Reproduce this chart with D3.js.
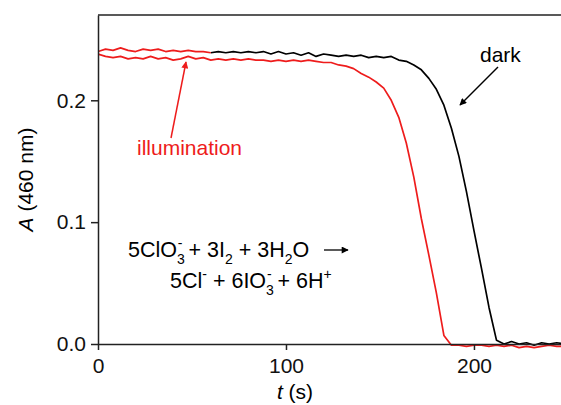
<!DOCTYPE html>
<html lang="en">
<head>
    <meta charset="UTF-8">
    <title>Absorbance at 460 nm, dark vs illumination</title>
    <script src="https://d3js.org/d3.v7.min.js"></script>
    <style>
        body { margin: 0; background: #fff; }
        svg { display: block; font-family: "Liberation Sans", Arial, sans-serif; }
        .axis path, .axis line { stroke: #222; stroke-width: 1.5; }
        .axis text { font-size: 21px; fill: #111; }
        .curve { fill: none; stroke-width: 1.7; stroke-linejoin: round; }
    </style>
</head>
<body>
<div id="chart"></div>
<script>
    // time (s) shared by both runs
    var times = [0, 4, 8, 12, 16, 20, 24, 28, 32, 36, 40, 44, 48, 52, 56, 60, 64, 68, 72, 76,
        80, 84, 88, 92, 96, 100, 104, 108, 112, 116, 120, 124, 128, 132, 136, 140, 144, 148, 152, 156,
        160, 164, 168, 172, 176, 180, 184, 188, 192, 196, 200, 204, 208, 212, 216, 220, 224, 228, 232, 236,
        240, 244, 248];

    // absorbance, run kept in the dark (first minute drawn red, as in the original)
    var darkA = [0.240, 0.242, 0.241, 0.243, 0.241, 0.240, 0.242, 0.241, 0.242, 0.240, 0.241, 0.240, 0.241, 0.240, 0.240, 0.239, 0.240, 0.239, 0.240, 0.239,
        0.240, 0.239, 0.240, 0.238, 0.240, 0.238, 0.239, 0.237, 0.239, 0.236, 0.238, 0.237, 0.236, 0.237, 0.236, 0.237, 0.235, 0.236, 0.235, 0.236,
        0.233, 0.232, 0.229, 0.225, 0.218, 0.209, 0.196, 0.177, 0.154, 0.125, 0.093, 0.062, 0.030, 0.003, 0.000, 0.002, 0.000, 0.001, -0.001, 0.001,
        0.000, 0.001, 0.000];
    var darkRedUntil = 60;

    // absorbance, run under illumination
    var lightA = [0.238, 0.236, 0.235, 0.236, 0.234, 0.235, 0.234, 0.236, 0.234, 0.235, 0.233, 0.234, 0.236, 0.234, 0.235, 0.233, 0.234, 0.233, 0.234, 0.233,
        0.234, 0.233, 0.233, 0.232, 0.233, 0.232, 0.233, 0.232, 0.233, 0.232, 0.231, 0.231, 0.229, 0.228, 0.226, 0.222, 0.219, 0.215, 0.210, 0.200,
        0.186, 0.165, 0.137, 0.103, 0.073, 0.042, 0.007, -0.001, -0.001, -0.002, -0.001, -0.001, -0.002, -0.001, -0.002, -0.001, -0.003, -0.002, -0.003, -0.002,
        -0.001, -0.002, -0.002];

    var xTicks = [0, 100, 200];
    var yTicks = [0.0, 0.1, 0.2];

    var W = 561, H = 405;
    var margin = {top: 15, left: 98, bottom: 61};

    var svg = d3.select("#chart").append("svg")
        .attr("width", W)
        .attr("height", H);

    var x = d3.scaleLinear().domain([0, 246.3]).range([margin.left, W]);
    var y = d3.scaleLinear().domain([0, 0.27]).range([H - margin.bottom, margin.top]);

    svg.append("clipPath").attr("id", "plotclip")
        .append("rect")
        .attr("x", margin.left).attr("y", margin.top)
        .attr("width", W - margin.left).attr("height", H - margin.bottom - margin.top + 6);

    var darkData = times.map(function(t, i) { return {t: t, a: darkA[i]}; });
    var lightData = times.map(function(t, i) { return {t: t, a: lightA[i]}; });

    var line = d3.line()
        .x(function(d) { return x(d.t); })
        .y(function(d) { return y(d.a); });

    var plot = svg.append("g").attr("clip-path", "url(#plotclip)");

    plot.append("path")
        .attr("class", "curve")
        .attr("stroke", "#000")
        .attr("d", line(darkData.filter(function(d) { return d.t >= darkRedUntil; })));

    plot.append("path")
        .attr("class", "curve")
        .attr("stroke", "#ee1c1c")
        .attr("d", line(darkData.filter(function(d) { return d.t <= darkRedUntil; })));

    plot.append("path")
        .attr("class", "curve")
        .attr("stroke", "#ee1c1c")
        .attr("d", line(lightData));

    // axes
    svg.append("g")
        .attr("class", "axis")
        .attr("transform", "translate(0," + y(0) + ")")
        .call(d3.axisBottom(x).tickValues(xTicks).tickSize(6).tickSizeOuter(0).tickPadding(8)
            .tickFormat(d3.format("d")));

    svg.append("g")
        .attr("class", "axis")
        .attr("transform", "translate(" + x(0) + ",0)")
        .call(d3.axisLeft(y).tickValues(yTicks).tickSize(7).tickSizeOuter(0).tickPadding(5)
            .tickFormat(d3.format(".1f")));

    // top frame
    svg.append("line")
        .attr("x1", x(0)).attr("x2", W)
        .attr("y1", y(0.27)).attr("y2", y(0.27))
        .attr("stroke", "#222").attr("stroke-width", 1.5);

    // axis titles
    var yt = svg.append("text")
        .attr("transform", "translate(33," + (y(0.27) + y(0)) / 2 + ") rotate(-90)")
        .attr("text-anchor", "middle")
        .style("font-size", "21px");
    yt.append("tspan").style("font-style", "italic").text("A");
    yt.append("tspan").text(" (460 nm)");

    var xt = svg.append("text")
        .attr("x", 295).attr("y", 399)
        .attr("text-anchor", "middle")
        .style("font-size", "21px");
    xt.append("tspan").style("font-style", "italic").text("t");
    xt.append("tspan").text(" (s)");

    // arrowheads
    var defs = svg.append("defs");
    [["ahBlack", "#000"], ["ahRed", "#ee1c1c"]].forEach(function(m) {
        defs.append("marker")
            .attr("id", m[0])
            .attr("viewBox", "0 0 10 10")
            .attr("refX", 9).attr("refY", 5)
            .attr("markerWidth", 10).attr("markerHeight", 7)
            .attr("markerUnits", "userSpaceOnUse")
            .attr("orient", "auto")
            .append("path").attr("d", "M0,0L10,5L0,10Z").attr("fill", m[1]);
    });

    // annotations
    svg.append("text").attr("x", 480).attr("y", 62)
        .style("font-size", "21px").text("dark");
    svg.append("line")
        .attr("x1", 498).attr("y1", 67).attr("x2", 460).attr("y2", 105)
        .attr("stroke", "#000").attr("stroke-width", 1.5)
        .attr("marker-end", "url(#ahBlack)");

    svg.append("text").attr("x", 137).attr("y", 155)
        .attr("fill", "#ee1c1c")
        .style("font-size", "21px").text("illumination");
    svg.append("line")
        .attr("x1", 171).attr("y1", 138).attr("x2", 186).attr("y2", 62)
        .attr("stroke", "#ee1c1c").attr("stroke-width", 1.5)
        .attr("marker-end", "url(#ahRed)");

    // reaction equation
    function chem(xPos, yPos, parts) {
        var t = svg.append("text").attr("x", xPos).attr("y", yPos).style("font-size", "21.5px");
        var level = 0;
        parts.forEach(function(p) {
            var target = p.k === "sub" ? 7 : p.k === "sup" ? -9 : 0;
            var ts = t.append("tspan").attr("dy", target - level).text(p.s);
            if (p.k) ts.style("font-size", "14px");
            if (p.back) ts.attr("dx", -p.back);
            level = target;
        });
        return t;
    }

    var eq1 = chem(128, 257, [
        {s: "5ClO"}, {s: "3", k: "sub"}, {s: "-", k: "sup", back: 7}, {s: " + 3I"}, {s: "2", k: "sub"},
        {s: " + 3H"}, {s: "2", k: "sub"}, {s: "O"}
    ]);
    var eqEnd = eq1.node().getComputedTextLength();
    svg.append("line")
        .attr("x1", Math.min(128 + eqEnd + 8, 324)).attr("y1", 250).attr("x2", 348).attr("y2", 250)
        .attr("stroke", "#000").attr("stroke-width", 1.3)
        .attr("marker-end", "url(#ahBlack)");

    chem(170, 288, [
        {s: "5Cl"}, {s: "-", k: "sup"}, {s: " + 6IO"}, {s: "3", k: "sub"}, {s: "-", k: "sup", back: 7},
        {s: " + 6H"}, {s: "+", k: "sup"}
    ]);
</script>
</body>
</html>
